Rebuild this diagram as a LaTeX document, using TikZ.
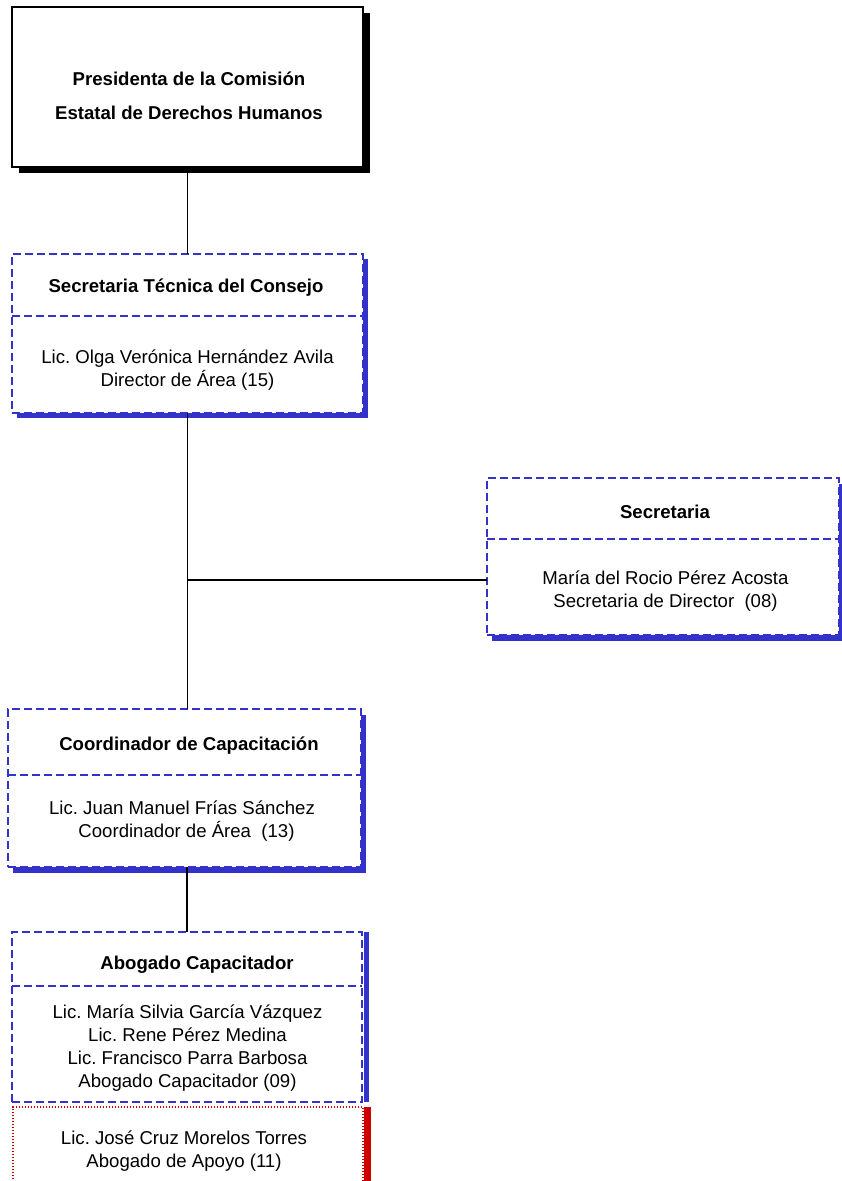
\documentclass[tikz,border=0pt]{standalone}
\usepackage{fontspec}
\setmainfont{Liberation Sans}
\frenchspacing
\usetikzlibrary{backgrounds}
\definecolor{orgblue}{RGB}{51,51,204}
\definecolor{orgred}{RGB}{204,0,0}
\begin{document}
\begin{tikzpicture}[x=1pt,y=-1pt,
  txt/.style={font=\fontsize{18.6}{23}\selectfont, inner sep=0pt, align=center, anchor=center, yshift=-2.5pt},
  ttl/.style={txt, font=\fontsize{18.6}{23}\selectfont\bfseries},
  boxbase/.style={rectangle, fill=white, inner sep=0pt, outer sep=0pt, anchor=center},
  topbox/.style={boxbase, draw=black, line width=1.5pt},
  bluebox/.style={boxbase, draw=orgblue, line width=1.5pt, dash pattern=on 8pt off 4pt},
  divider/.style={draw=orgblue, line width=1.5pt, dash pattern=on 8pt off 4pt},
  redbox/.style={boxbase, draw=orgred, line width=1.3pt, dash pattern=on 1.2pt off 1.8pt},
  conn/.style={draw=black, line width=1.7pt},
]
\useasboundingbox (0,0) rectangle (841,1181);

% boxes
\node[topbox, minimum width=351pt, minimum height=160pt] (pres) at (187.5,87) {};
\node[bluebox, minimum width=351pt, minimum height=159pt] (stc) at (187.5,333.5) {};
\node[bluebox, minimum width=352pt, minimum height=157pt] (sec) at (663,556.5) {};
\node[bluebox, minimum width=353pt, minimum height=158pt] (coord) at (184.5,788) {};
\node[bluebox, minimum width=350pt, minimum height=170pt] (abog) at (187,1017) {};
\node[redbox, minimum width=350pt, minimum height=84pt] (apoyo) at (188,1149) {};

% background and shadows
\begin{scope}[on background layer]
  \fill[white] (0,0) rectangle (841,1181);
  \fill[black] ([shift={(7,6)}]pres.north west) rectangle ([shift={(7,6)}]pres.south east);
  \fill[orgblue] ([shift={(5,5)}]stc.north west) rectangle ([shift={(5,5)}]stc.south east);
  \fill[orgblue] ([shift={(5,6)}]sec.north west) rectangle ([shift={(5,6)}]sec.south east);
  \fill[orgblue] ([shift={(5,6)}]coord.north west) rectangle ([shift={(5,6)}]coord.south east);
\end{scope}
\fill[orgblue] ([xshift=1.5pt]abog.north east) rectangle ([xshift=7pt]abog.south east);
\fill[orgred] ([xshift=1pt]apoyo.north east) rectangle ([xshift=8pt]apoyo.south east);

% dividers
\draw[divider] (stc.west |- 0,316) -- (stc.east |- 0,316);
\draw[divider] (sec.west |- 0,539) -- (sec.east |- 0,539);
\draw[divider] (coord.west |- 0,775) -- (coord.east |- 0,775);
\draw[divider] (abog.west |- 0,986) -- (abog.east |- 0,986);

% texts
\node[ttl, font=\fontsize{18.6}{34}\selectfont\bfseries] (presT) at (189,93) {Presidenta de la Comisión\\Estatal de Derechos Humanos};
\node[ttl] (stcT) at (186,285) {Secretaria Técnica del Consejo};
\node[txt] (stcB) at (187.5,368) {Lic. Olga Verónica Hernández Avila\\Director de Área (15)};
\node[ttl] (secT) at (665,509) {Secretaria};
\node[txt] (secB) at (665.5,588.5) {María del Rocio Pérez Acosta\\Secretaria de Director\ \ (08)};
\node[ttl] (coordT) at (189,743) {Coordinador de Capacitación};
\node[txt] (coordB) at (182,819) {Lic. Juan Manuel Frías Sánchez\\\hspace*{9pt}Coordinador de Área\ \ (13)};
\node[ttl] (abogT) at (197,962) {Abogado Capacitador};
\node[txt] (abogB) at (187.5,1045.5) {Lic. María Silvia García Vázquez\\Lic. Rene Pérez Medina\\Lic. Francisco Parra Barbosa\\Abogado Capacitador (09)};
\node[txt] (apoyoB) at (184,1149) {Lic. José Cruz Morelos Torres\\Abogado de Apoyo (11)};

% connectors
\coordinate (j) at (188,580);
\draw[conn] (pres.south) -- (stc.north);
\draw[conn] (stc.south) -- (stc.south |- coord.north);
\draw[conn] (j) -- (j -| sec.west);
\draw[conn] (abog.north |- coord.south) -- (abog.north);
\end{tikzpicture}
\end{document}
